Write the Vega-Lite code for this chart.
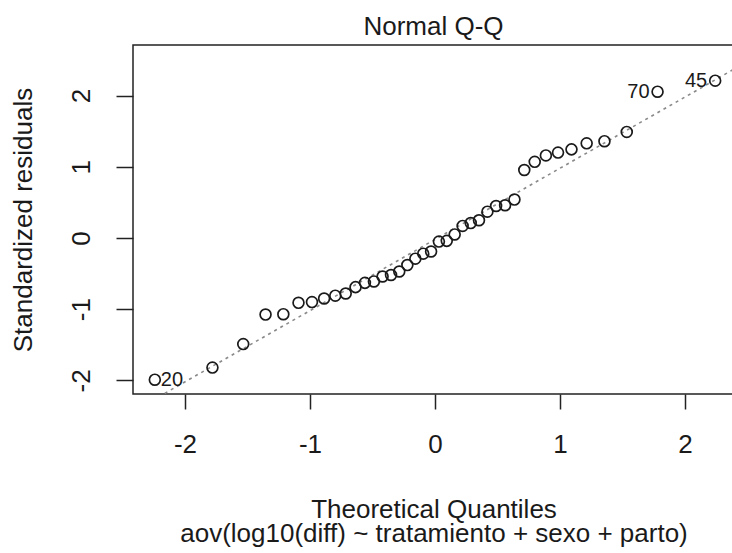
{
  "$schema": "https://vega.github.io/schema/vega-lite/v6.json",
  "width": 601,
  "height": 349,
  "autosize": {"type": "none"},
  "padding": {"left": 133, "top": 45, "right": 0, "bottom": 159},
  "background": "white",
  "config": {
    "view": {"stroke": "#222222", "strokeWidth": 1.5},
    "font": "Liberation Sans"
  },
  "title": {
    "text": "Normal Q-Q",
    "font": "Liberation Sans",
    "fontSize": 26,
    "fontWeight": "normal",
    "color": "#1a1a1a",
    "anchor": "middle",
    "frame": "group",
    "baseline": "alphabetic",
    "offset": -16
  },
  "datasets": {
    "pts": [
      {"x": -2.2414, "y": -1.99, "label": "20"},
      {"x": -1.7805, "y": -1.82},
      {"x": -1.5341, "y": -1.49},
      {"x": -1.3556, "y": -1.075},
      {"x": -1.2133, "y": -1.07},
      {"x": -1.092, "y": -0.91},
      {"x": -0.9842, "y": -0.9},
      {"x": -0.8871, "y": -0.85},
      {"x": -0.7977, "y": -0.81},
      {"x": -0.7143, "y": -0.78},
      {"x": -0.6356, "y": -0.69},
      {"x": -0.5606, "y": -0.63},
      {"x": -0.4888, "y": -0.61},
      {"x": -0.4193, "y": -0.54},
      {"x": -0.3518, "y": -0.52},
      {"x": -0.2858, "y": -0.47},
      {"x": -0.2211, "y": -0.38},
      {"x": -0.1573, "y": -0.29},
      {"x": -0.0941, "y": -0.22},
      {"x": -0.0313, "y": -0.19},
      {"x": 0.0313, "y": -0.05},
      {"x": 0.0941, "y": -0.04},
      {"x": 0.1573, "y": 0.05},
      {"x": 0.2211, "y": 0.17},
      {"x": 0.2858, "y": 0.21},
      {"x": 0.3518, "y": 0.25},
      {"x": 0.4193, "y": 0.37},
      {"x": 0.4888, "y": 0.45},
      {"x": 0.5606, "y": 0.46},
      {"x": 0.6356, "y": 0.54},
      {"x": 0.7143, "y": 0.955},
      {"x": 0.7977, "y": 1.07},
      {"x": 0.8871, "y": 1.16},
      {"x": 0.9842, "y": 1.2},
      {"x": 1.092, "y": 1.245},
      {"x": 1.2133, "y": 1.33},
      {"x": 1.3556, "y": 1.36},
      {"x": 1.5341, "y": 1.49},
      {"x": 1.7805, "y": 2.055, "label": "70"},
      {"x": 2.2414, "y": 2.21, "label": "45"}
    ],
    "ref": [
      {"x": -2.6, "y": -2.62},
      {"x": 2.6, "y": 2.58}
    ]
  },
  "layer": [
    {
      "data": {"name": "ref"},
      "mark": {"type": "line", "clip": true, "color": "#8a8a8a", "strokeDash": [3, 4], "strokeWidth": 1.6},
      "encoding": {
        "x": {
          "field": "x",
          "type": "quantitative",
          "scale": {"domain": [-2.416, 2.392], "nice": false, "zero": false},
          "axis": {
            "values": [-2, -1, 0, 1, 2],
            "labelExpr": "'' + datum.value",
            "domain": false,
            "grid": false,
            "tickSize": 15,
            "tickWidth": 1.5,
            "tickColor": "#222222",
            "labelFontSize": 26,
            "labelColor": "#1a1a1a",
            "labelBaseline": "alphabetic",
            "labelPadding": 43,
            "labelFont": "Liberation Sans",
            "title": ["Theoretical Quantiles", "aov(log10(diff) ~ tratamiento + sexo + parto)"],
            "titleFont": "Liberation Sans",
            "titleFontSize": 26,
            "titleFontWeight": "normal",
            "titleColor": "#1a1a1a",
            "titleBaseline": "alphabetic",
            "titleAlign": "center",
            "titleX": 300.5,
            "titleY": 123,
            "titleLineHeight": 24
          }
        },
        "y": {
          "field": "y",
          "type": "quantitative",
          "scale": {"domain": [-2.191, 2.711], "nice": false, "zero": false},
          "axis": {
            "values": [-2, -1, 0, 1, 2],
            "labelExpr": "'' + datum.value",
            "domain": false,
            "grid": false,
            "tickSize": 17,
            "tickWidth": 1.5,
            "tickColor": "#222222",
            "labelFontSize": 26,
            "labelColor": "#1a1a1a",
            "labelAngle": 270,
            "labelAlign": "center",
            "labelBaseline": "alphabetic",
            "labelPadding": 27,
            "labelFont": "Liberation Sans",
            "title": "Standardized residuals",
            "titleFont": "Liberation Sans",
            "titleFontSize": 26,
            "titleFontWeight": "normal",
            "titleColor": "#1a1a1a",
            "titleAngle": 270,
            "titleBaseline": "alphabetic",
            "titleAlign": "center",
            "titleX": -102,
            "titleY": 174.5
          }
        }
      }
    },
    {
      "data": {"name": "pts"},
      "mark": {"type": "point", "shape": "circle", "filled": false, "color": "#1a1a1a", "size": 118, "strokeWidth": 1.7, "opacity": 1},
      "encoding": {
        "x": {"field": "x", "type": "quantitative"},
        "y": {"field": "y", "type": "quantitative"}
      }
    },
    {
      "data": {"name": "pts"},
      "transform": [{"filter": "datum.label != null && datum.x < 0"}],
      "mark": {"type": "text", "align": "left", "baseline": "middle", "dx": 6, "fontSize": 20, "color": "#1a1a1a", "font": "Liberation Sans"},
      "encoding": {
        "x": {"field": "x", "type": "quantitative"},
        "y": {"field": "y", "type": "quantitative"},
        "text": {"field": "label"}
      }
    },
    {
      "data": {"name": "pts"},
      "transform": [{"filter": "datum.label != null && datum.x > 0"}],
      "mark": {"type": "text", "align": "right", "baseline": "middle", "dx": -8, "fontSize": 20, "color": "#1a1a1a", "font": "Liberation Sans"},
      "encoding": {
        "x": {"field": "x", "type": "quantitative"},
        "y": {"field": "y", "type": "quantitative"},
        "text": {"field": "label"}
      }
    }
  ]
}
